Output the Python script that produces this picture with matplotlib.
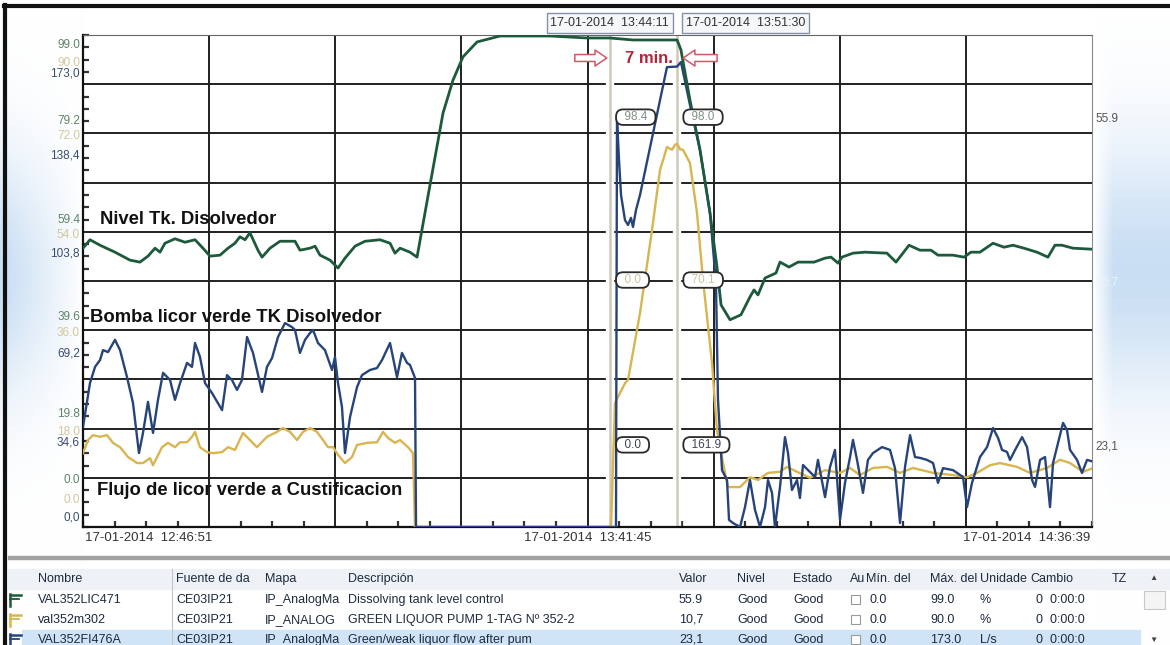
import numpy as np
import matplotlib
matplotlib.use('Agg')
import matplotlib.pyplot as plt
from matplotlib.transforms import Affine2D, ScaledTranslation, blended_transform_factory
from matplotlib.lines import Line2D
from matplotlib.patches import Rectangle
from datetime import datetime, timedelta

plt.rcParams['font.family'] = ['Liberation Sans', 'DejaVu Sans']

W, H = 1170, 645
start = datetime(2014, 1, 17, 12, 46, 51)
span = 109.8                 # minutes on screen
t_cursor = [57.33, 64.65]    # the two cursors

# VAL352LIC471 - nivel tanque disolvedor (%)
t_level = [0.00, 0.76, 1.85, 3.48, 5.11, 6.20, 7.07, 7.84, 8.38, 8.92, 10.01, 11.10, 12.19,
           13.06, 13.82, 14.91, 15.78, 16.54, 17.08, 17.63, 18.17, 19.04, 19.48, 20.35, 21.44,
           23.07, 23.61, 24.70, 25.25, 25.79, 26.88, 27.75, 28.51, 29.60, 30.69, 32.32, 33.41,
           33.95, 34.50, 35.58, 36.35, 37.76, 39.18, 40.26, 41.35, 42.88, 45.38, 50.82, 54.85,
           57.33, 59.85, 64.65, 65.07, 66.05, 67.14, 68.23, 68.99, 69.43, 70.41, 71.60, 72.58,
           73.02, 73.45, 74.22, 75.41, 75.85, 76.83, 77.81, 79.55, 80.75, 81.40, 82.16, 82.59,
           83.79, 85.10, 87.49, 88.47, 89.89, 91.08, 92.28, 93.04, 94.67, 95.87, 96.63, 97.61,
           99.03, 100.22, 101.20, 102.40, 103.81, 105.01, 105.77, 106.53, 107.73, 109.80]
level = [56.1, 57.8, 56.7, 55.3, 53.7, 53.3, 54.5, 56.1, 55.3, 57.1, 58.0, 57.3, 57.8,
         56.1, 54.5, 54.7, 56.1, 57.1, 58.4, 57.8, 59.2, 55.7, 54.3, 56.1, 57.5,
         57.5, 55.7, 56.1, 56.5, 54.7, 53.7, 52.1, 54.1, 56.5, 57.5, 57.8, 57.1,
         55.1, 56.1, 55.3, 54.3, 68.8, 83.3, 89.9, 94.6, 97.6, 98.8, 98.8, 98.4,
         98.4, 98.0, 98.0, 96.0, 85.9, 75.9, 63.2, 52.3, 44.7, 41.7, 42.7, 46.3,
         47.7, 46.7, 50.1, 51.1, 53.3, 52.3, 53.3, 53.3, 54.1, 54.3, 53.1, 54.3,
         55.1, 55.3, 55.1, 53.3, 56.7, 55.7, 55.7, 54.7, 54.7, 54.3, 55.3, 55.3,
         57.1, 56.3, 56.7, 56.1, 55.3, 54.3, 56.7, 56.7, 56.1, 55.9]

# val352m302 - bomba licor verde (%)
t_pump = [0.00, 0.54, 1.09, 1.85, 2.61, 3.26, 4.03, 4.90, 5.88, 6.53, 7.29, 7.62, 8.60, 9.25,
          10.01, 10.56, 11.32, 11.86, 12.19, 12.73, 13.49, 14.15, 15.13, 15.78, 16.54, 17.41,
          18.17, 18.93, 20.02, 21.11, 21.76, 22.53, 23.29, 23.94, 24.70, 25.46, 26.12, 26.66,
          27.21, 27.75, 28.51, 29.27, 29.82, 30.91, 31.99, 32.65, 33.19, 33.95, 34.50, 35.37,
          35.91, 36.13, 57.46, 57.89, 58.98, 59.31, 60.61, 61.92, 62.79, 63.55, 64.10, 64.42,
          64.65, 64.97, 65.29, 66.05, 66.82, 67.47, 68.45, 68.99, 69.65, 70.19, 71.50, 72.58,
          73.45, 74.54, 75.85, 76.61, 77.70, 79.11, 80.75, 82.38, 83.47, 84.55, 85.97, 87.49,
          88.91, 90.32, 92.50, 94.67, 96.20, 97.29, 98.70, 99.79, 101.64, 103.05, 104.90,
          106.32, 107.41, 108.82, 109.80]
pump = [13.5, 15.9, 16.8, 16.5, 16.8, 15.4, 14.6, 12.8, 11.7, 11.7, 12.6, 11.3, 14.6, 15.4,
        14.6, 15.5, 15.5, 16.5, 17.4, 14.6, 13.7, 13.5, 13.7, 14.6, 14.1, 17.2,
        15.9, 14.6, 16.5, 17.4, 18.1, 17.4, 15.9, 17.4, 18.1, 17.4, 15.9, 14.6,
        14.6, 13.2, 11.7, 12.8, 15.0, 15.4, 15.5, 17.4, 16.3, 15.4, 15.9, 14.6,
        13.5, 0.0, 0.0, 22.7, 26.3, 26.9, 39.1, 54.3, 65.3, 69.5, 69.0, 69.9,
        70.1, 69.1, 69.0, 66.6, 57.4, 45.2, 30.0, 17.7, 11.7, 7.3, 7.3, 9.1,
        8.6, 9.9, 10.1, 11.0, 10.1, 9.0, 10.4, 9.9, 10.8, 9.5, 10.8, 11.0,
        9.9, 10.8, 9.9, 9.5, 9.1, 9.9, 11.3, 11.7, 11.0, 9.9, 10.8,
        12.3, 11.7, 10.1, 10.7]

# VAL352FI476A - flujo licor verde (L/s)
t_flow = [0.00, 0.76, 1.31, 1.85, 2.18, 2.72, 3.48, 4.03, 4.79, 5.44, 6.09, 6.53, 7.07, 7.62,
          8.16, 8.71, 9.47, 10.01, 10.56, 11.32, 11.86, 12.19, 12.73, 13.28, 14.04, 15.13,
          15.67, 16.21, 16.76, 17.30, 17.85, 18.50, 19.48, 20.02, 20.57, 21.22, 21.98, 22.74,
          23.07, 23.61, 24.16, 24.70, 25.03, 25.57, 26.33, 27.10, 27.42, 27.75, 28.18, 28.51,
          29.06, 29.82, 30.36, 31.23, 31.99, 32.54, 33.41, 34.17, 34.71, 35.26, 35.58, 36.13,
          36.24, 58.00, 58.11, 58.33, 58.55, 58.98, 59.31, 59.63, 59.85, 60.18, 60.61, 63.55,
          64.65, 65.07, 66.05, 67.14, 68.23, 68.88, 69.10, 69.54, 70.08, 70.30, 70.73, 71.50,
          72.04, 72.58, 73.13, 73.67, 74.22, 74.54, 74.98, 75.30, 75.85, 76.39, 76.72, 77.15,
          77.70, 78.02, 78.35, 78.90, 79.66, 79.98, 80.75, 81.29, 81.83, 82.38, 82.92, 83.47,
          83.79, 84.23, 84.88, 85.42, 85.97, 86.95, 87.82, 88.36, 88.91, 89.45, 90.00, 90.54,
          91.08, 91.84, 92.50, 93.04, 93.59, 94.67, 95.76, 96.20, 96.74, 97.61, 98.38, 99.03,
          99.58, 100.01, 100.55, 100.88, 101.43, 102.19, 102.73, 103.28, 103.60, 104.15,
          104.69, 105.23, 105.56, 106.10, 106.65, 107.08, 107.41, 108.17, 108.71, 109.26,
          109.80]
flow = [35.2, 50.6, 56.3, 58.7, 62.2, 61.5, 65.8, 62.2, 52.7, 43.6, 26.0, 33.1, 44.0, 33.1,
        44.7, 54.2, 51.7, 44.7, 50.6, 57.7, 56.3, 64.7, 59.8, 50.6, 47.1, 41.1,
        53.4, 51.7, 48.2, 51.7, 66.8, 61.2, 47.5, 56.3, 59.4, 66.8, 71.7, 70.3,
        69.3, 61.2, 65.8, 68.2, 69.3, 64.7, 62.2, 55.2, 59.8, 50.6, 42.2, 26.0,
        38.7, 49.2, 53.4, 55.2, 55.9, 58.7, 64.7, 52.7, 61.2, 57.7, 57.0, 52.4,
        0.0, 0.0, 143.8, 129.0, 116.7, 107.9, 106.2, 108.7, 105.5, 111.5, 116.7, 161.7,
        161.9, 163.5, 148.4, 132.6, 110.4, 85.8, 44.7, 20.0, 16.5, 2.5, 1.4, 0.0,
        7.0, 16.5, 6.0, 0.0, 7.0, 16.5, 12.0, 0.0, 14.1, 31.6, 26.0, 13.0,
        16.5, 10.2, 21.8, 20.0, 17.6, 23.6, 10.5, 21.1, 27.1, 2.5, 15.5, 24.6,
        30.6, 23.6, 12.0, 23.6, 26.0, 28.1, 27.1, 20.7, 1.4, 21.1, 32.3, 24.6,
        24.3, 23.6, 22.5, 15.5, 20.7, 20.0, 17.6, 7.0, 15.5, 24.6, 28.1, 34.8,
        31.3, 27.1, 26.4, 23.6, 27.1, 31.6, 28.1, 16.5, 14.1, 23.6,
        24.6, 7.0, 22.5, 29.5, 36.6, 34.1, 27.1, 23.6, 19.0, 23.6,
        23.1]

lvl_max, pump_max, flow_max = 99.0, 90.0, 173.0

# tag list under the trend
tags = ['VAL352LIC471', 'val352m302', 'VAL352FI476A']
sources = ['CE03IP21', 'CE03IP21', 'CE03IP21']
maps = ['IP_AnalogMa', 'IP_ANALOG', 'IP_AnalogMa']
descs = ['Dissolving tank level control', 'GREEN LIQUOR PUMP 1-TAG Nº 352-2',
         'Green/weak liquor flow after pum']
units = ['%', '%', 'L/s']
headers = ['Nombre', 'Fuente de da', 'Mapa', 'Descripción', 'Valor', 'Nivel', 'Estado',
           'Au', 'Mín. del', 'Máx. del', 'Unidade', 'Cambio', 'TZ']

c_lvl, c_pump, c_flow = '#1d5a3c', '#d8b54f', '#27447a'


def stamp(t):
    return (start + timedelta(seconds=round(t * 60))).strftime('%d-%m-%Y  %H:%M:%S')


fig = plt.figure(figsize=(W / 100, H / 100), dpi=100)
pix = Affine2D().scale(1 / W, -1 / H).translate(0, 1) + fig.transFigure


def shifted(base, dx, dy):
    # offset in screen pixels, dy measured downwards
    return base + ScaledTranslation(dx / 100, -dy / 100, fig.dpi_scale_trans)


# bluish light falling on the monitor at both sides
bg = fig.add_axes([0, 0, 1, 1], zorder=-5)
bg.axis('off')
yy, xx = np.mgrid[0:H, 0:W]
glow = np.clip(1 - (xx - 6) / 78.0, 0, 1) * np.exp(-((yy - 275) / 120.0) ** 2)
glow += np.clip((xx - 1093) / 20.0, 0, 1) * np.exp(-((yy - 270) / 125.0) ** 2)
glow = np.clip(glow, 0, 1) * 0.9
tint = np.array([0.77, 0.86, 0.95])
img = 1 - glow[..., None] * (1 - tint)
bg.imshow(img, extent=[0, W, H, 0], aspect='auto', interpolation='bilinear')
bg.set_xlim(0, W)
bg.set_ylim(H, 0)

# grid / host axes
ax = fig.add_axes([83 / W, 1 - 527 / H, 1009 / W, 492 / H])
ax.set_facecolor('white')
ax.set_ylim(0, 1)
ax.set_xticks(np.linspace(0, span, 9)[1:-1])
ax.set_yticks(np.linspace(0, 1, 11)[1:-1])
ax.set_xticks(np.linspace(0, span, 33), minor=True)
ax.set_yticks(np.linspace(0, 1, 41), minor=True)
ax.grid(True, which='major', color='#202020', lw=1.4)
ax.tick_params(which='major', length=0, labelbottom=False, labelleft=False)
ax.tick_params(which='minor', direction='in', length=4, width=1.6, color='#333333')
for side in ('left', 'bottom'):
    ax.spines[side].set_color('#111111')
    ax.spines[side].set_linewidth(1.6)
ax.spines['top'].set_color('#666666')
ax.spines['right'].set_color('#8a8a8a')

for t in t_cursor:
    ax.axvline(t, color='white', lw=6, zorder=2)
    ax.axvline(t, color='#cdcabb', lw=1.8, zorder=2.1)


def trend_axis(top):
    a = ax.twinx()
    a.set_ylim(0, top)
    a.yaxis.set_visible(False)
    for s in a.spines.values():
        s.set_visible(False)
    return a


ax_pump = trend_axis(pump_max)
ax_flow = trend_axis(flow_max)
ax_lvl = trend_axis(lvl_max)

ax_pump.plot(t_pump, pump, color=c_pump, lw=1.7, solid_joinstyle='round')
ax_flow.plot(t_flow, flow, color=c_flow, lw=1.7, solid_joinstyle='round')
ax_lvl.plot(t_level, level, color=c_lvl, lw=2.0, solid_joinstyle='round')
ax.set_xlim(0, span)

# stacked scale labels on the left
scales = [(ax_lvl, lvl_max, '.', '#5e8468'),
          (ax_pump, pump_max, '.', '#d2c89c'),
          (ax_flow, flow_max, ',', '#3a4c74')]
label_shift = [[10, 28, 38], [-12, 3, 22], [-12, 3, 22],
               [-13, 3, 23], [-15, 3, 14], [-47, -27, -10]]
for k, (a, top, sep, col) in enumerate(scales):
    base = blended_transform_factory(ax.transAxes, a.transData)
    for i, v in enumerate(np.linspace(top, 0, 6)):
        a.text(0, v, f'{v:.1f}'.replace('.', sep), transform=shifted(base, -3, label_shift[i][k]),
               ha='right', va='center', fontsize=8.5, color=col, clip_on=False)

# cursor value bubbles and current values on the right
series = [(t_level, level, '#7f9184'), (t_pump, pump, '#cbc4a2'), (t_flow, flow, '#3c4455')]
bubble_y = [0.833, 0.502, 0.167]
side_y = [0.829, 0.496, 0.163]
side_col = ['#555555', '#eef3f8', '#555555']
side_sep = ['.', '.', ',']
mixed = blended_transform_factory(ax.transData, ax.transAxes)
for (ts, vs, col), yb, ys, sc, ss in zip(series, bubble_y, side_y, side_col, side_sep):
    for t in t_cursor:
        v = np.interp(t, ts, vs)
        ax_lvl.text(t, yb, f'  {v:.1f}  ', transform=shifted(mixed, 8, 0), ha='left', va='center',
                    fontsize=8.5, color=col, zorder=6,
                    bbox=dict(boxstyle='round,pad=0.15,rounding_size=0.6', fc='white',
                              ec='#2a2a2a', lw=1.3))
    ax_lvl.text(1, ys, f'{vs[-1]:.1f}'.replace('.', ss), transform=shifted(ax.transAxes, 3, 0),
                ha='left', va='center', fontsize=8.5, color=sc, clip_on=False)

# trend names
bold = dict(fontsize=13.3, fontweight='bold', color='#111111', va='center', ha='left', zorder=7)
ax_lvl.text(0.0168, 0.624, 'Nivel Tk. Disolvedor', transform=ax.transAxes, **bold)
ax_lvl.text(0.0069, 0.425, 'Bomba licor verde TK Disolvedor', transform=ax.transAxes, **bold)
ax_lvl.text(0.0139, 0.075, 'Flujo de licor verde a Custificacion', transform=ax.transAxes, **bold)

# cursor time stamps
box = dict(boxstyle='square,pad=0.3', fc='#f6f7f9', ec='#8291a8', lw=1.0)
ax_lvl.text(t_cursor[0], 1, stamp(t_cursor[0]), transform=shifted(mixed, 0, -12), ha='center',
            va='center', fontsize=9, color='#333333', bbox=box, clip_on=False)
ax_lvl.text(t_cursor[1], 1, stamp(t_cursor[1]), transform=shifted(mixed, 9, -12), ha='left',
            va='center', fontsize=9, color='#333333', bbox=box, clip_on=False)

# elapsed time between cursors
t_mid = (t_cursor[0] + t_cursor[1]) / 2
ax_lvl.text(t_mid, 1, f'{round(t_cursor[1] - t_cursor[0])} min.', transform=shifted(mixed, 5, 23),
            ha='center', va='center', fontsize=12, fontweight='bold', color='#b3263a', zorder=7)
arrow = dict(arrowstyle='simple,head_length=0.85,head_width=1.15,tail_width=0.5', fc='white',
             ec='#cc5a66', lw=1.1, mutation_scale=10, shrinkA=0, shrinkB=0)
ax_lvl.annotate('', xy=(t_cursor[0], 1), xycoords=shifted(mixed, -3, 23),
                xytext=(-32 * 0.72, 0), textcoords='offset points', arrowprops=arrow,
                annotation_clip=False)
ax_lvl.annotate('', xy=(t_cursor[1], 1), xycoords=shifted(mixed, 6, 23),
                xytext=(34 * 0.72, 0), textcoords='offset points', arrowprops=arrow,
                annotation_clip=False)

# time axis labels
tl = dict(fontsize=9.5, color='#333333', va='center', clip_on=False)
ax.text(0, 0, stamp(0), transform=shifted(mixed, 2, 11), ha='left', **tl)
ax.text(span / 2, 0, stamp(span / 2), transform=shifted(mixed, 0, 11), ha='center', **tl)
ax.text(span, 0, stamp(span), transform=shifted(mixed, -2, 11), ha='right', **tl)

# monitor frame
fig.add_artist(Line2D([4, W], [6, 6], lw=3, color='#111111', transform=pix))
fig.add_artist(Line2D([5, 5], [5, H], lw=3, color='#111111', transform=pix))

# tag table
head_y = 579
row_y = [600, 620, 640]
fig.add_artist(Rectangle((8, 556), W - 8, 3, color='#a2a2a2', transform=pix))
fig.add_artist(Rectangle((8, 569), W - 8, 20, color='#eef1f5', transform=pix))
fig.add_artist(Rectangle((22, row_y[2] - 10), 1118, 20, color='#cfe5f7', transform=pix))
fig.add_artist(Line2D([172, 172], [569, H], lw=0.8, color='#c4c4c4', transform=pix))
cols_x = [38, 176, 265, 348, 679, 737, 793, 850, 866, 930, 980, 1030, 1112]
txt = dict(fontsize=9, color='#1e2a3e', va='center', ha='left', transform=pix)
for x, h in zip(cols_x, headers):
    fig.text(x, head_y, h, **txt)
fig.text(1153, head_y, '▲', fontsize=6, color='#444444', va='center', ha='center', transform=pix)
fig.text(1153, row_y[2], '▼', fontsize=6, color='#444444', va='center', ha='center', transform=pix)
fig.add_artist(Rectangle((1144, row_y[0] - 9), 21, 18, fc='#f4f4f4', ec='#c8c8c8', lw=0.8,
                         transform=pix))

icon_col = [c_lvl, c_pump, c_flow]
tops = [lvl_max, pump_max, flow_max]
lasts = [f'{level[-1]:.1f}', f'{pump[-1]:.1f}'.replace('.', ','), f'{flow[-1]:.1f}'.replace('.', ',')]
for i, y in enumerate(row_y):
    fig.add_artist(Line2D([10, 10], [y - 6, y + 6], lw=1.8, color=icon_col[i], transform=pix))
    fig.add_artist(Line2D([10, 21], [y - 5, y - 5], lw=1.8, color=icon_col[i], transform=pix))
    fig.add_artist(Line2D([10, 19], [y - 1, y - 1], lw=1.3, color=icon_col[i], transform=pix))
    fig.add_artist(Rectangle((851, y - 5), 9, 9, fc='white', ec='#9a9a9a', lw=0.8, transform=pix))
    cells = [tags[i], sources[i], maps[i], descs[i], lasts[i], 'Good', 'Good']
    for x, c in zip(cols_x[:7], cells):
        fig.text(x, y, c, **txt)
    fig.text(869, y, '0.0', **txt)
    fig.text(930, y, f'{tops[i]:.1f}', **txt)
    fig.text(980, y, units[i], **txt)
    fig.text(1036, y, '0  0:00:0', **txt)

fig.savefig('out.png', dpi=100, facecolor='white')
